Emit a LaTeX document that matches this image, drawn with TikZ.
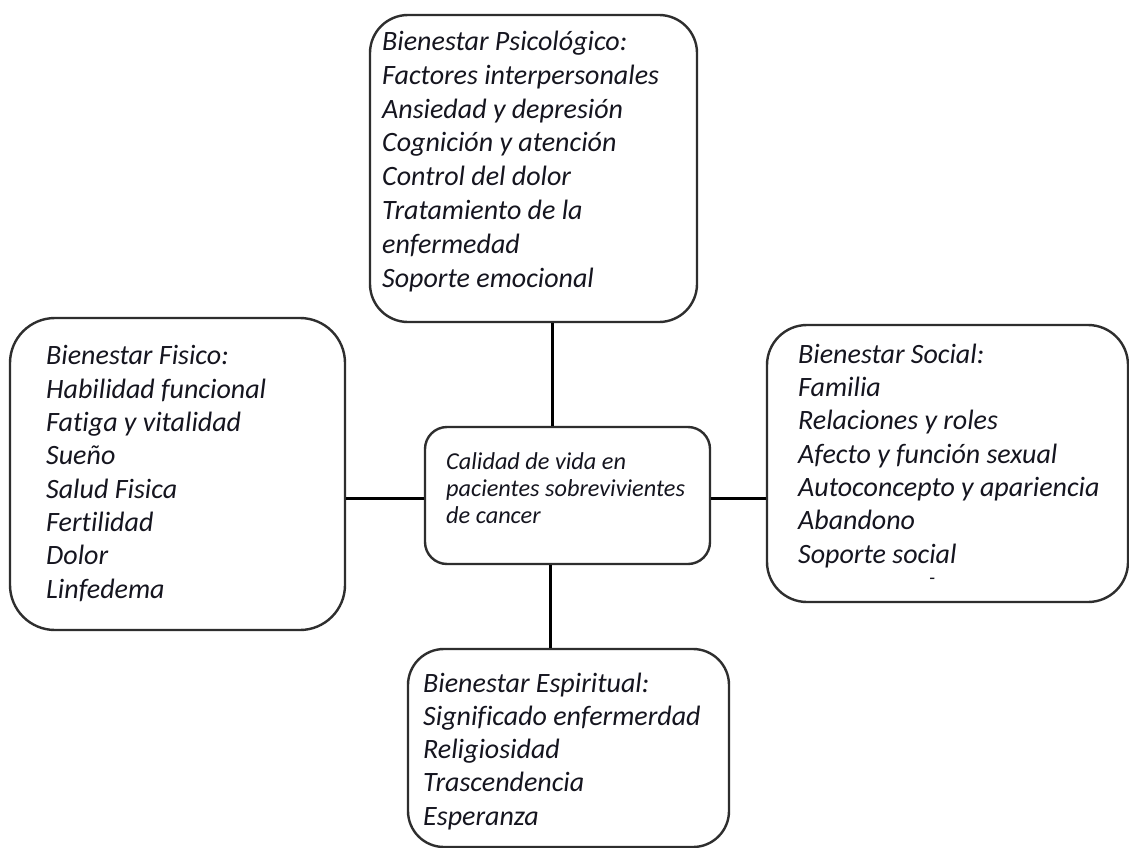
\documentclass[tikz,border=0pt]{standalone}
\usepackage{fontspec}
\setmainfont{Carlito}[Ligatures={NoCommon}]
\definecolor{boxgray}{HTML}{2E2E2E}
\definecolor{txt}{HTML}{15151F}
\begin{document}
\begin{tikzpicture}[x=1pt,y=-1pt,
  box/.style={draw=boxgray, line width=2.4pt, rounded corners=#1, inner sep=0pt, fill=white},
  bigtxt/.style={anchor=base west, align=left, inner sep=0pt, text=txt,
    font=\fontsize{28}{#1}\selectfont\itshape},
  bigtxt/.default=33.5,
  smalltxt/.style={anchor=base west, align=left, inner sep=0pt, text=txt,
    font=\fontsize{24.3}{27}\selectfont\itshape},
  link/.style={draw=black, line width=3pt}]
\useasboundingbox (0,0) rectangle (1129,848);
\fill[white] (0,0) rectangle (1129,848);

% boxes
\node[box=38pt, minimum width=327pt, minimum height=307pt] (psych) at (533.5,168.5) {};
\node[box=45pt, minimum width=335pt, minimum height=312pt] (fis) at (177.5,474) {};
\node[box=22pt, minimum width=285pt, minimum height=137pt] (cen) at (567.5,495.5) {};
\node[box=40pt, minimum width=361pt, minimum height=277pt] (soc) at (947.5,463.5) {};
\node[box=36pt, minimum width=321pt, minimum height=198pt] (esp) at (568.5,748) {};

% connector guides
\coordinate (vtop) at (552,0);
\coordinate (vbot) at (550,0);
\coordinate (hmid) at (0,498);

% connectors
\draw[link] (psych.south -| vtop) -- (cen.north -| vtop);
\draw[link] (cen.south -| vbot) -- (esp.north -| vbot);
\draw[link] (fis.east |- hmid) -- (cen.west |- hmid);
\draw[link] (cen.east |- hmid) -- (soc.west |- hmid);

% texts (anchored at the baseline of the last line)
\node[bigtxt=33.8] (tpsych) at (382,287) {Bienestar Psicológico:\\Factores interpersonales\\Ansiedad y depresión\\Cognición y atención\\Control del dolor\\Tratamiento de la\\enfermedad\\Soporte emocional};
\node[bigtxt=33.3] (tfis) at (46,598) {Bienestar Fisico:\\Habilidad funcional\\Fatiga y vitalidad\\Sueño\\Salud Fisica\\Fertilidad\\Dolor\\Linfedema};
\node[smalltxt] (tcen) at (446,523) {Calidad de vida en\\pacientes sobrevivientes\\de cancer};
\node[bigtxt=33.3] (tsoc) at (798,563) {Bienestar Social:\\Familia\\Relaciones y roles\\Afecto y función sexual\\Autoconcepto y apariencia\\Abandono\\Soporte social};
\node[anchor=base west, inner sep=0pt, text=txt, font=\fontsize{20}{24}\selectfont\itshape] (tdash) at (929,584) {-};
\node[bigtxt=33.2] (tesp) at (423,825) {Bienestar Espiritual:\\Significado enfermerdad\\Religiosidad\\Trascendencia\\Esperanza};
\end{tikzpicture}
\end{document}
